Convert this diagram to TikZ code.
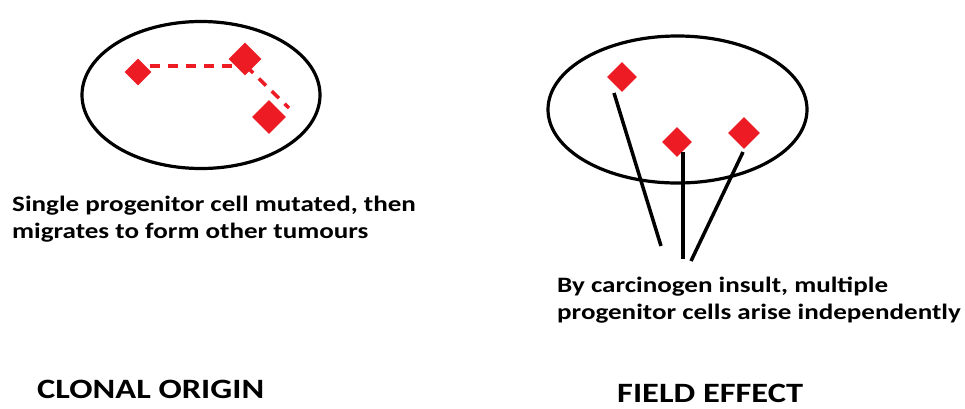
\documentclass[tikz,border=0pt]{standalone}
\usepackage{fontspec}
\setmainfont{Carlito}
\newfontfamily\widefont[FakeStretch=1.23]{Carlito}
\usetikzlibrary{shapes.geometric}
\definecolor{cellred}{HTML}{ED1C24}
\begin{document}
\begin{tikzpicture}[x=1pt,y=-1pt,
  cellbox/.style={diamond,fill=cellred,inner sep=0pt,minimum width=#1,minimum height=#1},
  region/.style={ellipse,draw=black,line width=3.2pt,inner sep=0pt},
  link/.style={draw=black,line width=3.5pt},
  trail/.style={draw=cellred,line width=3.5pt,dash pattern=on 10pt off 8pt},
  caption/.style={font=\widefont\bfseries\fontsize{22}{27}\selectfont,align=left,inner sep=0pt},
  heading/.style={font=\widefont\bfseries\fontsize{28}{32}\selectfont,inner sep=0pt,text depth=0pt}]
\useasboundingbox (0,0) rectangle (965,408);
% left
\node[region,minimum width=238pt,minimum height=147pt] (e1) at (201,95) {};
\node[cellbox=27pt] (a1) at (138,72) {};
\node[cellbox=33pt] (a2) at (245,59) {};
\node[cellbox=34pt] (a3) at (269,117) {};
\coordinate (t0) at (150,66);
\coordinate (t1) at (238,66);
\coordinate (t2) at (246,66);
\coordinate (t3) at (289,108);
\draw[trail] (t0) -- (t1);
\draw[trail] (t2) -- (t3);
\node[caption,anchor=base west] (c1) at (12,238) {Single progenitor cell mutated, then\\migrates to form other tumours};
\node[heading,anchor=base west] (h1) at (37,398) {CLONAL ORIGIN};
% right
\node[region,minimum width=259pt,minimum height=147pt] (e2) at (677.5,109.5) {};
\node[cellbox=30pt] (b1) at (622,77) {};
\node[cellbox=30pt] (b2) at (677,142) {};
\node[cellbox=32pt] (b3) at (744,133) {};
\coordinate (s1) at (614,93);
\coordinate (s2) at (683,152);
\coordinate (s3) at (743,152);
\coordinate (f1) at (661,246);
\coordinate (f2) at (683,259);
\coordinate (f3) at (691,261);
\draw[link] (s1) -- (f1);
\draw[link] (s2) -- (f2);
\draw[link] (s3) -- (f3);
\node[caption,anchor=base west] (c2) at (557,319) {By carcinogen insult, multiple\\progenitor cells arise independently};
\node[heading,anchor=base west] (h2) at (617,402) {FIELD EFFECT};
\end{tikzpicture}
\end{document}
